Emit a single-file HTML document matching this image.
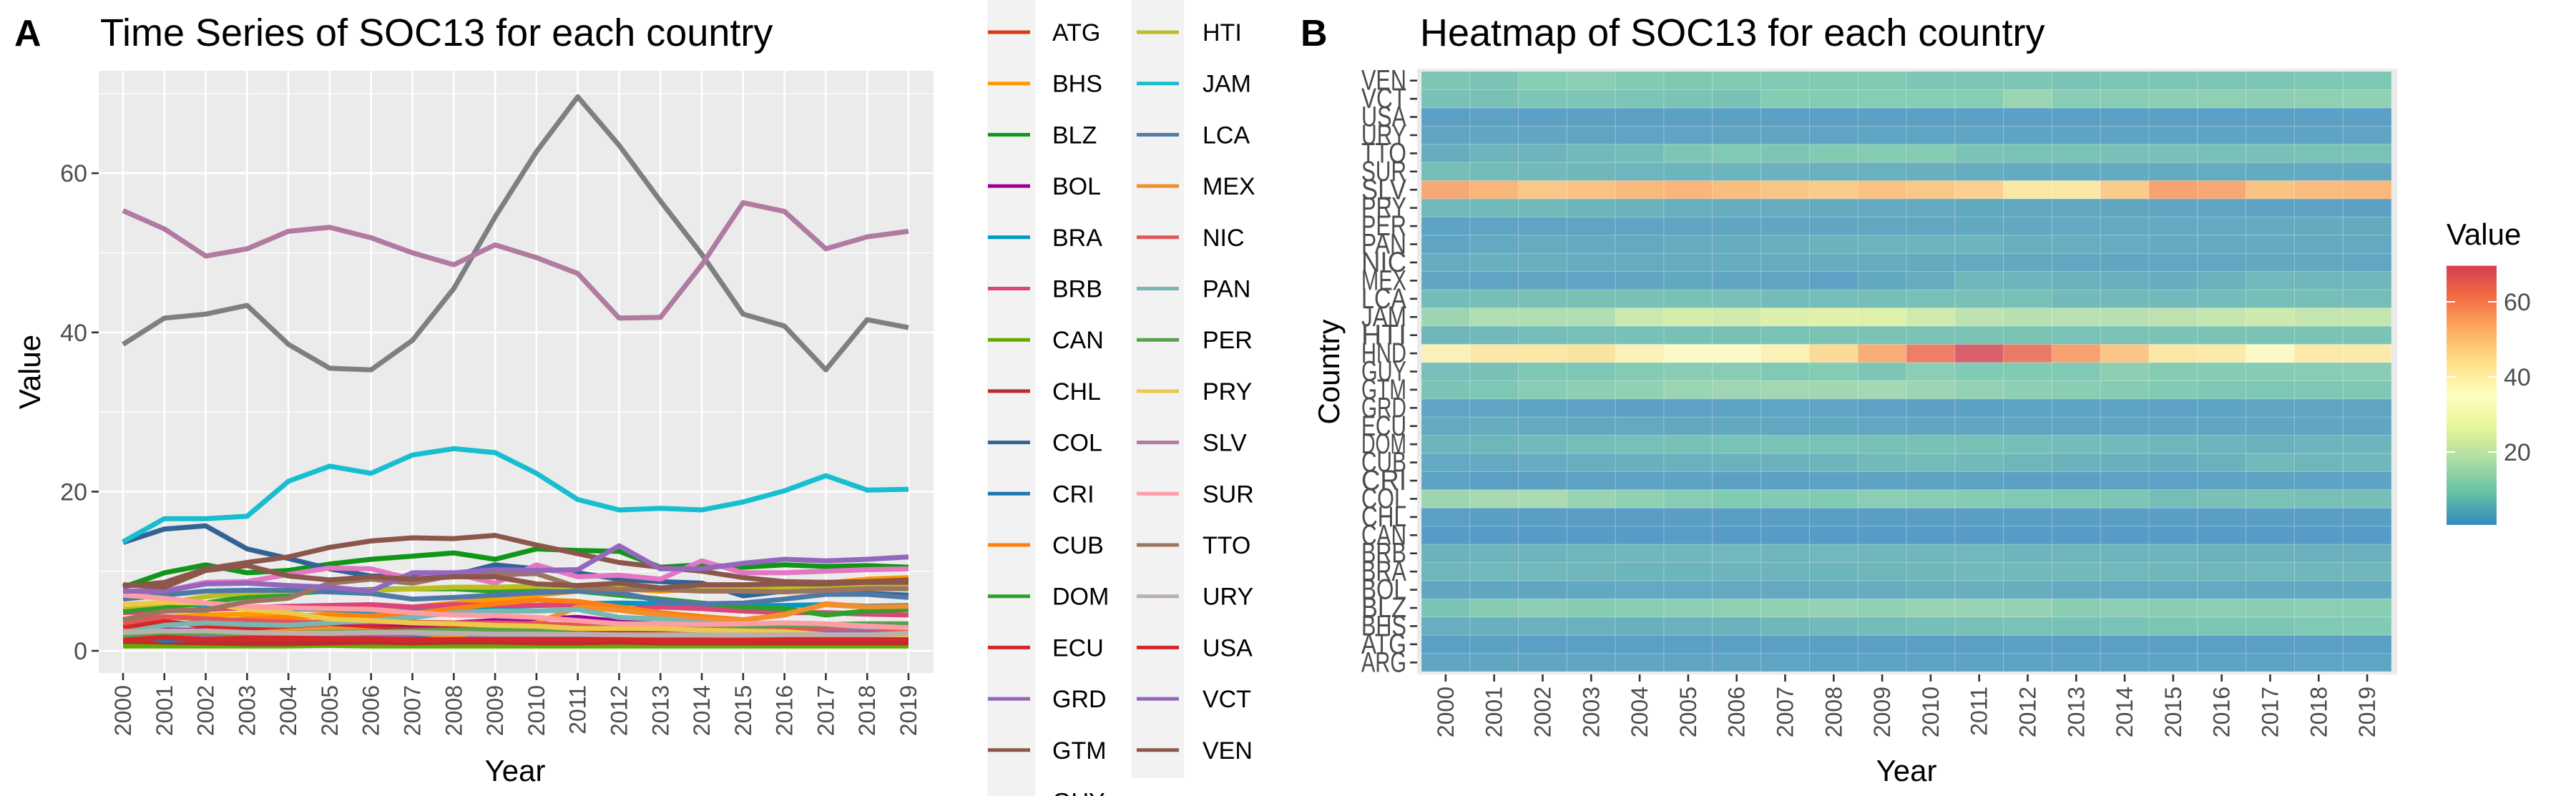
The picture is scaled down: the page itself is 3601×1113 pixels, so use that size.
<!DOCTYPE html>
<html><head><meta charset="utf-8"><style>
body{margin:0;background:#fff;}
svg{display:block;font-family:"Liberation Sans",sans-serif;}
</style></head><body>
<svg id="c" width="3601" height="1113"></svg>
<script>
const years=[2000,2001,2002,2003,2004,2005,2006,2007,2008,2009,2010,2011,2012,2013,2014,2015,2016,2017,2018,2019];
const countries=["ARG","ATG","BHS","BLZ","BOL","BRA","BRB","CAN","CHL","COL","CRI","CUB","DOM","ECU","GRD","GTM","GUY","HND","HTI","JAM","LCA","MEX","NIC","PAN","PER","PRY","SLV","SUR","TTO","URY","USA","VCT","VEN"];
const colors=["#3366CC","#DC3912","#FF9900","#109618","#990099","#0099C6","#DD4477","#66AA00","#B82E2E","#316395","#1f77b4","#ff7f0e","#2ca02c","#d62728","#9467bd","#8c564b","#e377c2","#7f7f7f","#bcbd22","#17becf","#4e79a7","#f28e2b","#e15759","#76b7b2","#59a14f","#edc948","#b07aa1","#ff9da7","#9c755f","#bab0ac","#d62728","#9467bd","#8c564b"];
const vARG=[2.5,2.6,2.6,2.5,2.4,2.3,2.3,2.1,2,2,2,2,2,2,2,2,2,2,2.1,2.1];
const vATG=[1.3,1.5,1.3,1.3,1.3,1.2,1.3,1.3,1.3,1.3,1.3,1.3,1.4,1.3,1.3,1.3,1.2,1.2,1.2,1.2];
const vBHS=[4,4.2,4.5,4.6,4.3,4.6,4.8,5.5,6,6.5,7,7.5,7.8,7.5,7.8,8.2,8.5,8.5,9,9.2];
const vBLZ=[8,9.8,10.8,9.8,10.1,10.9,11.5,11.9,12.3,11.5,12.8,12.6,12.5,10.5,10.8,10.5,10.8,10.6,10.7,10.5];
const vBOL=[2.5,2.6,2.6,2.8,3,3,3.1,3.2,3.5,3.8,4,4.2,3.7,3.3,3,3,3,2.9,2.9,2.8];
const vBRA=[5.5,5.8,5.8,5.5,5.3,5.2,5,5,5.2,5.5,5.7,5.9,6,5.9,5.8,5.7,5.7,5.8,5.6,5.7];
const vBRB=[4.8,5,5.2,5.4,5.6,5.7,5.8,5.5,5.8,5.7,5.7,5.8,5.2,5.5,5.3,5,4.8,4.8,4.6,4.5];
const vCAN=[0.6,0.6,0.6,0.6,0.6,0.7,0.6,0.6,0.6,0.6,0.6,0.6,0.6,0.6,0.6,0.6,0.6,0.6,0.6,0.6];
const vCHL=[1.2,1.1,1,0.9,0.9,1,1.1,1,1.1,1.1,1,1,1.1,1,1,1,1,1,1,1];
const vCOL=[13.6,15.3,15.7,12.8,11.6,10.3,9.4,9.3,9.5,10.8,10.3,9.8,9,8.7,8.5,6.9,7.5,7.8,7.2,7];
const vCRI=[2,1.3,1.6,1.7,2,1.9,1.6,1.5,1.8,1.9,2,2,1.6,1.6,1.7,1.8,1.9,2,2,2];
const vCUB=[3,3.2,3.6,4,4.2,4.4,4.4,4.7,5.3,5.9,6.4,6.2,5.5,4.8,4.3,3.9,4.5,5.9,5.5,5.6];
const vDOM=[5,5.5,6,6.8,7.2,7.5,7.7,7.8,7.8,7.5,7.5,7.5,7,6.5,6,5.5,5.3,4.5,5,5.2];
const vECU=[3,3.7,3.1,2.9,3,2.9,2.9,2.7,2.8,2.7,2.6,2.5,2.4,2.3,2.4,2.4,2.5,2.6,2.4,2.4];
const vGRD=[2.2,2.2,2,1.8,1.6,1.7,1.9,2.1,2.2,1.8,1.6,1.5,2,2,2,1.8,2,2.3,2.3,2.3];
const vGTM=[8.1,8.6,10.3,11.1,11.8,13,13.8,14.2,14.1,14.5,13.3,12.2,11.1,10.5,10,9.2,8.7,8.6,8.7,8.9];
const vGUY=[7.2,7.5,8.6,8.7,9.6,10.4,10.3,9,9.7,8.5,10.8,9.3,9.5,9,11.3,9.8,9.8,10,10.2,10.3];
const vHND=[38.5,41.8,42.3,43.4,38.5,35.5,35.3,39,45.5,54.5,62.7,69.6,63.5,56.5,49.8,42.3,40.8,35.3,41.6,40.6];
const vHTI=[5.5,6,6.8,7.3,7.5,7.5,7.6,7.8,8,8,8.1,8,8,7.8,7.9,7.9,8,8,8,8.1];
const vJAM=[13.7,16.6,16.6,16.9,21.3,23.2,22.3,24.6,25.4,24.9,22.3,19,17.7,17.9,17.7,18.7,20.1,22,20.2,20.3];
const vLCA=[6.5,7,7.5,7.6,7.6,7.4,7.2,6.5,6.7,7,7.3,7.5,7.3,6.3,5.9,6,6.5,7.1,7.1,6.7];
const vMEX=[2.5,2.2,2.3,2.2,2.5,2.8,2.5,2.3,1.8,2.8,3.5,5.5,5.1,4.5,4,3.8,4.6,5.8,5.5,5.6];
const vNIC=[3.5,4.3,4,3.8,3.6,3.6,3.6,3.6,3.5,3.5,3.4,3.2,2.9,2.7,2.6,2.7,2.7,2.9,2.9,2.7];
const vPAN=[2.3,3.2,3.5,3.3,3.2,3.5,3.8,4.2,4.8,5,5,5.2,4.2,4,3.5,3.3,3.3,3.3,3,3];
const vPER=[2,2.2,2.2,2.1,2.2,2.3,2.4,2.5,2.6,2.7,2.7,2.8,2.9,3,3,3.1,3.2,3.3,3.4,3.4];
const vPRY=[5.8,6.1,6,5.2,4.8,4,3.8,3.5,3.4,3.2,3.1,2.8,2.8,2.8,2.6,2.5,2.4,2,1.8,1.6];
const vSLV=[55.3,53,49.6,50.5,52.7,53.2,51.9,50,48.5,51,49.4,47.4,41.8,41.9,48.5,56.3,55.2,50.5,52,52.7];
const vSUR=[7,6.6,6,5.6,5.4,5.3,5.2,4.8,4.5,4.4,4.2,3.8,3.4,3.4,3.3,3.4,3.5,3.4,3.1,2.9];
const vTTO=[3.9,5,5.1,6.2,6.6,8.5,9,8.5,9.5,9.6,9.7,8,7.7,7.7,7.5,7.5,7.4,7.6,7.8,7.8];
const vURY=[2.3,2.5,2.5,2.3,2.2,2.2,2.3,2.3,2.2,2.1,2.1,2.1,2,2,2,2,2,2,2,2.2];
const vUSA=[1.3,1.7,1.4,1.6,1.6,1.5,1.5,1.4,1.4,1.4,1.4,1.4,1.4,1.3,1.3,1.3,1.4,1.4,1.4,1.4];
const vVCT=[7.5,7.5,8.4,8.5,8.2,8,7.5,9.8,9.8,10.2,10.1,10.2,13.2,10.3,10.3,11,11.5,11.3,11.5,11.8];
const vVEN=[8.3,8,10.1,10.7,9.4,8.9,9.3,9,9.3,9.3,8.4,8.2,8.5,7.9,8.3,8.3,8.4,8.4,8.6,8.6];
const series=[vARG,vATG,vBHS,vBLZ,vBOL,vBRA,vBRB,vCAN,vCHL,vCOL,vCRI,vCUB,vDOM,vECU,vGRD,vGTM,vGUY,vHND,vHTI,vJAM,vLCA,vMEX,vNIC,vPAN,vPER,vPRY,vSLV,vSUR,vTTO,vURY,vUSA,vVCT,vVEN];
const yTicks=[0,20,40,60];
const cbTicks=[20,40,60];

const NS="http://www.w3.org/2000/svg";
const svg=document.getElementById('c');
function el(tag,attrs,parent,text){const e=document.createElementNS(NS,tag);for(const k in attrs)e.setAttribute(k,attrs[k]);if(text!==undefined)e.textContent=text;(parent||svg).appendChild(e);return e;}

// ---------- Panel A ----------
const ax=y=>172+(y-2000)*57.79;
const ay=v=>910-v*11.13;
let g=el('g',{});


el('rect',{x:138,y:99,width:1167,height:842,fill:'#ebebeb'},g);
[10,30,50,70].forEach(v=>el('line',{x1:138,x2:1305,y1:ay(v),y2:ay(v),stroke:'#fff','stroke-width':1.3},g));
yTicks.forEach(v=>{el('line',{x1:138,x2:1305,y1:ay(v),y2:ay(v),stroke:'#fff','stroke-width':2.6},g);
 el('line',{x1:128,x2:138,y1:ay(v),y2:ay(v),stroke:'#333','stroke-width':2.6},g);
 const t=el('text',{x:122,y:ay(v)+12,'text-anchor':'end','font-size':34,fill:'#4d4d4d'},g,String(v));
 });
years.forEach(yr=>{el('line',{x1:ax(yr),x2:ax(yr),y1:99,y2:941,stroke:'#fff','stroke-width':2.6},g);
 el('line',{x1:ax(yr),x2:ax(yr),y1:941,y2:951,stroke:'#333','stroke-width':2.6},g);
 const t=el('text',{transform:`translate(${ax(yr)+11},958) rotate(-90)`,'text-anchor':'end','font-size':32,fill:'#4d4d4d'},g,String(yr));
 });
series.forEach((s,i)=>{const d=s.map((v,j)=>(j?'L':'M')+ax(years[j]).toFixed(1)+','+ay(v).toFixed(1)).join('');
 const p=el('path',{d:d,fill:'none',stroke:colors[i],'stroke-width':7,'stroke-linejoin':'round'},g);
 });
let t=el('text',{x:720,y:1092,'text-anchor':'middle','font-size':42,fill:'#000'},g,'Year');

t=el('text',{transform:'translate(56,520) rotate(-90)','text-anchor':'middle','font-size':42,fill:'#000'},g,'Value');

t=el('text',{x:20,y:64,'font-size':52,'font-weight':'bold'},svg,'A');

t=el('text',{x:140,y:64,'font-size':54},svg,'Time Series of SOC13 for each country');


// ---------- Legend ----------
const lg=el('g',{});


el('rect',{x:1380,y:0,width:67,height:1113,fill:'#f2f2f2'},lg);
el('rect',{x:1582,y:0,width:73,height:1088,fill:'#f2f2f2'},lg);
countries.forEach((c,i)=>{
 let col,row;
 if(i<=16){col=0;row=i-1;}else{col=1;row=i-18;}
 const cy=45+row*71.7;
 const kx=col?1589:1381, tx=col?1681:1471;
 const e=el('g',{},lg);
 
 
 el('line',{x1:kx,x2:kx+59,y1:cy,y2:cy,stroke:colors[i],'stroke-width':5},e);
 el('text',{x:tx,y:cy+12,'font-size':34,fill:'#000'},e,c);
});

// ---------- Panel B: heatmap ----------
const pal=["#3288BD","#66C2A5","#ABDDA4","#E6F598","#FFFFBF","#FEE08B","#FDAE61","#F46D43","#D53E4F"];
const vmin=0.6,vmax=69.6;
function hex(h){return [1,3,5].map(k=>parseInt(h.substr(k,2),16));}
function colorAt(v){let f=(v-vmin)/(vmax-vmin);f=Math.max(0,Math.min(1,f))*(pal.length-1);const i=Math.min(pal.length-2,Math.floor(f));const r=f-i;const a=hex(pal[i]),b=hex(pal[i+1]);return 'rgb('+a.map((x,k)=>Math.round(x+(b[k]-x)*r)).join(',')+')';}
const hb=el('g',{});


el('rect',{x:1981,y:96,width:1370,height:847,fill:'#ebebeb'},hb);
const hx0=1987,cw=(3343-1987)/20,hy1=939,rh=(939-100)/countries.length;
countries.forEach((c,r)=>{const s=series[r];const y=hy1-(r+1)*rh;
 s.forEach((v,j)=>{const cell=el('rect',{x:hx0+j*cw,y:y,width:cw,height:rh,fill:colorAt(v),'fill-opacity':0.8,stroke:'#ffffff','stroke-opacity':0.2,'stroke-width':1},hb);
  });
 const cyy=y+rh/2;
 el('line',{x1:1971,x2:1981,y1:cyy,y2:cyy,stroke:'#333','stroke-width':2.6},hb);
 const tl=el('text',{x:1966,y:cyy+13,'text-anchor':'end','font-size':40,fill:'#4d4d4d',textLength:c.length*21,lengthAdjust:'spacingAndGlyphs'},hb,c);
 });
years.forEach((yr,j)=>{const x=hx0+(j+0.5)*cw;
 el('line',{x1:x,x2:x,y1:943,y2:953,stroke:'#333','stroke-width':2.6},hb);
 const tl=el('text',{transform:`translate(${x+11},960) rotate(-90)`,'text-anchor':'end','font-size':32,fill:'#4d4d4d'},hb,String(yr));
 });
t=el('text',{x:2665,y:1092,'text-anchor':'middle','font-size':42},svg,'Year');

t=el('text',{transform:'translate(1872,520) rotate(-90)','text-anchor':'middle','font-size':42},svg,'Country');

t=el('text',{x:1818,y:64,'font-size':52,'font-weight':'bold'},svg,'B');

t=el('text',{x:1985,y:64,'font-size':54},svg,'Heatmap of SOC13 for each country');


// colorbar
const cb=el('g',{});


const defs=el('defs',{});
const lgd=el('linearGradient',{id:'cbg',x1:0,y1:1,x2:0,y2:0},defs);
pal.forEach((c,i)=>el('stop',{offset:(i/(pal.length-1)),'stop-color':c},lgd));
const cbY=v=>737-(v-0)*5.25;
el('rect',{x:3420,y:cbY(vmax),width:70,height:cbY(vmin)-cbY(vmax),fill:'url(#cbg)'},cb);
cbTicks.forEach(v=>{el('line',{x1:3420,x2:3432,y1:cbY(v),y2:cbY(v),stroke:'#fff','stroke-width':2},cb);
 el('line',{x1:3478,x2:3490,y1:cbY(v),y2:cbY(v),stroke:'#fff','stroke-width':2},cb);
 el('text',{x:3500,y:cbY(v)+12,'font-size':34,fill:'#4d4d4d'},cb,String(v));});
el('text',{x:3420,y:342,'font-size':42},cb,'Value');
</script>
</body></html>
